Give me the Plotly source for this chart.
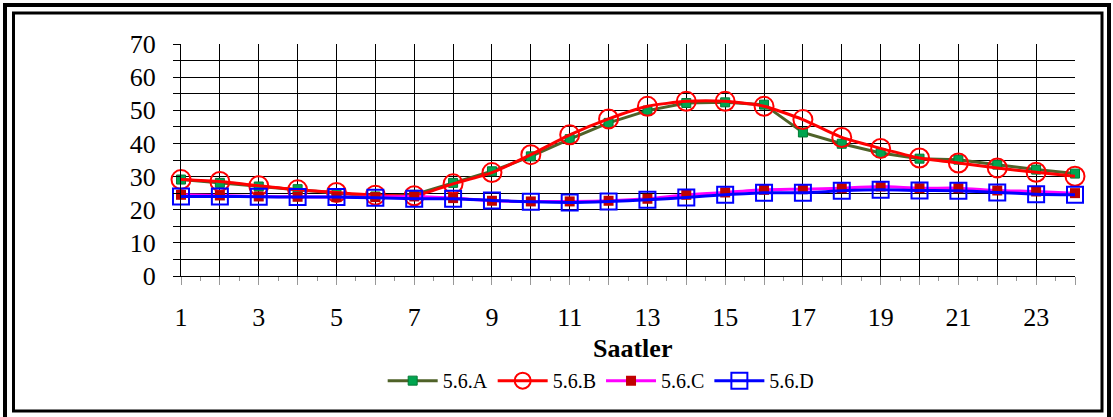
import plotly.graph_objects as go

hours = list(range(1, 25))
series_a = [29.1, 28.1, 27.0, 26.2, 25.0, 24.0, 24.5, 28.1, 31.6, 36.1, 41.3, 46.2,
            49.9, 52.2, 52.4, 51.7, 43.3, 39.9, 37.1, 35.4, 35.1, 33.6, 32.1, 30.9]
series_b = [29.1, 28.5, 27.2, 26.0, 25.2, 24.4, 24.2, 27.8, 31.2, 36.6, 42.6, 47.4,
            51.2, 52.7, 52.7, 51.2, 47.2, 41.8, 38.5, 35.6, 34.1, 32.6, 31.3, 30.1]
series_c = [24.5, 24.3, 24.0, 23.9, 23.8, 23.8, 24.0, 23.5, 22.7, 22.5, 22.5, 22.7,
            23.3, 24.5, 25.2, 26.0, 26.2, 26.5, 27.0, 26.5, 26.5, 25.8, 25.5, 25.0]
series_d = [24.0, 24.0, 23.9, 23.8, 23.8, 23.6, 23.3, 23.3, 22.8, 22.4, 22.2, 22.5,
            23.0, 23.7, 24.5, 25.1, 25.1, 25.7, 26.0, 25.8, 25.7, 25.2, 24.7, 24.5]
names = ["5.6.A", "5.6.B", "5.6.C", "5.6.D"]
x_tick_vals = list(range(1, 25))
x_tick_text = [str(v) if v % 2 == 1 else "" for v in x_tick_vals]
y_tick_vals = list(range(0, 75, 5))
y_tick_text = [str(v) if v % 10 == 0 else "" for v in y_tick_vals]

FONT = "Liberation Serif"

fig = go.Figure()
fig.add_trace(go.Scatter(
    x=hours, y=series_a, name=names[0], mode="lines+markers", cliponaxis=False,
    line=dict(color="#4F6228", width=3),
    marker=dict(symbol="square", size=9, color="#00A550", line=dict(color="#007A33", width=1)),
))
fig.add_trace(go.Scatter(
    x=hours, y=series_b, name=names[1], mode="lines+markers", cliponaxis=False,
    line=dict(color="#FF0000", width=3, shape="spline", smoothing=0.6),
    marker=dict(symbol="circle-open", size=19, color="#FF0000", line=dict(width=2)),
))
fig.add_trace(go.Scatter(
    x=hours, y=series_c, name=names[2], mode="lines+markers", cliponaxis=False,
    line=dict(color="#FF00FF", width=3, shape="spline", smoothing=0.6),
    marker=dict(symbol="square", size=10, color="#C00000"),
))
fig.add_trace(go.Scatter(
    x=hours, y=series_d, name=names[3], mode="lines+markers", cliponaxis=False,
    line=dict(color="#0000FF", width=3, shape="spline", smoothing=0.6),
    marker=dict(symbol="square-open", size=16, color="#0000FF", line=dict(width=2)),
))

fig.update_layout(
    width=1113, height=417,
    margin=dict(l=181, r=38, t=44, b=141),
    paper_bgcolor="white", plot_bgcolor="white",
    font=dict(family=FONT, color="black", size=26),
    showlegend=True,
    legend=dict(orientation="h", x=0.47, y=-0.451, xanchor="center", yanchor="middle",
                font=dict(family=FONT, size=20, color="black"),
                itemwidth=50, tracegroupgap=0, bgcolor="rgba(0,0,0,0)"),
    xaxis=dict(
        range=[1, 24], tickmode="array", tickvals=x_tick_vals, ticktext=x_tick_text,
        showgrid=True, gridcolor="black", gridwidth=1,
        showline=True, linecolor="black", linewidth=1,
        ticks="outside", ticklen=8, tickcolor="#999999", tickwidth=1,
        ticklabelstandoff=10,
        minor=dict(tickvals=[v + 0.5 for v in x_tick_vals[:-1]], ticks="outside",
                   ticklen=4, tickcolor="#999999", showgrid=False),
        tickfont=dict(family=FONT, size=26, color="black"),
        zeroline=False,
    ),
    yaxis=dict(
        range=[0, 70], tickmode="array", tickvals=y_tick_vals, ticktext=y_tick_text,
        showgrid=True, gridcolor="black", gridwidth=1,
        showline=True, linecolor="black", linewidth=1,
        ticks="outside", ticklen=7, tickcolor="black",
        ticklabelstandoff=12,
        tickfont=dict(family=FONT, size=26, color="black"),
        zeroline=False,
    ),
    annotations=[dict(text="<b>Saatler</b>", xref="paper", yref="paper",
                      x=0.5045, y=-0.313, xanchor="center", yanchor="middle",
                      showarrow=False, font=dict(family=FONT, size=26, color="black"))],
    shapes=[
        dict(type="rect", xref="paper", yref="paper", xsizemode="pixel", ysizemode="pixel",
             xanchor=0, yanchor=0, x0=-176, x1=928, y0=-146, y1=271,
             line=dict(color="black", width=4), fillcolor="rgba(0,0,0,0)", layer="above"),
        dict(type="rect", xref="paper", yref="paper", xsizemode="pixel", ysizemode="pixel",
             xanchor=0, yanchor=0, x0=-167.5, x1=921, y0=-135, y1=263,
             line=dict(color="black", width=3), fillcolor="rgba(0,0,0,0)", layer="above"),
    ],
)

fig.write_html("out.html")
